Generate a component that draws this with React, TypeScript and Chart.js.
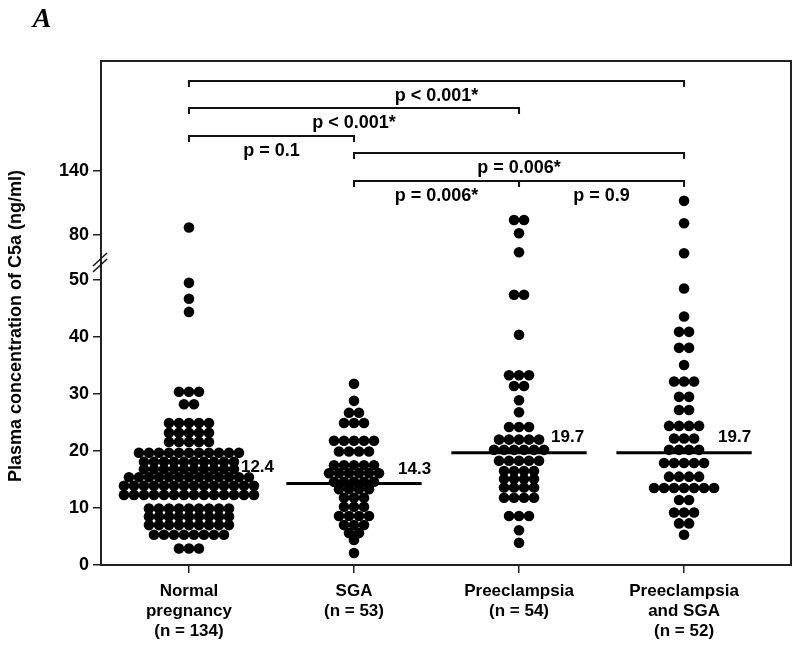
import React, { useEffect, useRef } from "react";
import { Chart, registerables } from "chart.js";

Chart.register(...registerables);

// ---------- data ----------
const categories: string[][] = [
  ["Normal", "pregnancy", "(n = 134)"],
  ["SGA", "(n = 53)"],
  ["Preeclampsia", "(n = 54)"],
  ["Preeclampsia", "and SGA", "(n = 52)"],
];

const normalPregnancy: number[] = [
  87, 49.5, 46.7, 44.4,
  30.4, 30.4, 30.4,
  28.2, 28.2,
  24.9, 24.9, 24.9, 24.9, 24.9,
  23.2, 23.2, 23.2, 23.2, 23.2,
  21.6, 21.6, 21.6, 21.6, 21.6,
  19.7, 19.7, 19.7, 19.7, 19.7, 19.7, 19.7, 19.7, 19.7, 19.7, 19.7,
  18.1, 18.1, 18.1, 18.1, 18.1, 18.1, 18.1, 18.1, 18.1, 18.1,
  16.8, 16.8, 16.8, 16.8, 16.8, 16.8, 16.8, 16.8, 16.8, 16.8,
  15.4, 15.4, 15.4, 15.4, 15.4, 15.4, 15.4, 15.4, 15.4, 15.4, 15.4, 15.4, 15.4,
  13.9, 13.9, 13.9, 13.9, 13.9, 13.9, 13.9, 13.9, 13.9, 13.9, 13.9, 13.9, 13.9, 13.9,
  12.3, 12.3, 12.3, 12.3, 12.3, 12.3, 12.3, 12.3, 12.3, 12.3, 12.3, 12.3, 12.3, 12.3,
  9.9, 9.9, 9.9, 9.9, 9.9, 9.9, 9.9, 9.9, 9.9,
  8.5, 8.5, 8.5, 8.5, 8.5, 8.5, 8.5, 8.5, 8.5,
  7.0, 7.0, 7.0, 7.0, 7.0, 7.0, 7.0, 7.0, 7.0,
  5.3, 5.3, 5.3, 5.3, 5.3, 5.3, 5.3, 5.3,
  2.9, 2.9, 2.9,
];

const sga: number[] = [
  31.8, 28.8, 26.7, 26.7,
  24.9, 24.9, 24.9,
  21.8, 21.8, 21.8, 21.8, 21.8,
  19.9, 19.9, 19.9, 19.9,
  17.5, 17.5, 17.5, 17.5, 17.5,
  16.1, 16.1, 16.1, 16.1, 16.1, 16.1,
  14.6, 14.6, 14.6, 14.6, 14.6,
  13.3, 13.3, 13.3, 13.3,
  11.8, 11.8, 11.8,
  10.2, 10.2, 10.2,
  8.6, 8.6, 8.6, 8.6,
  7.0, 7.0, 7.0,
  5.6, 5.6,
  4.4,
  2.1,
];

const preeclampsia: number[] = [
  94, 94, 81.6, 68.5,
  47.4, 47.4, 40.4,
  33.3, 33.3, 33.3,
  31.4, 31.4,
  28.9, 26.8,
  24.2, 24.2, 24.2,
  22.0, 22.0, 22.0, 22.0, 22.0,
  20.2, 20.2, 20.2, 20.2, 20.2, 20.2,
  18.3, 18.3, 18.3, 18.3, 18.3,
  16.5, 16.5, 16.5, 16.5,
  15.1, 15.1, 15.1, 15.1,
  13.6, 13.6, 13.6, 13.6,
  11.8, 11.8, 11.8, 11.8,
  8.6, 8.6, 8.6,
  6.1, 3.9,
];

const preeclampsiaSga: number[] = [
  112, 91, 67.8,
  48.5, 43.6, 40.9, 40.9, 38.1, 38.1, 35.1,
  32.2, 32.2, 32.2,
  29.5, 29.5,
  27.2, 27.2,
  24.4, 24.4, 24.4, 24.4,
  22.2, 22.2, 22.2,
  20.2, 20.2, 20.2, 20.2,
  17.9, 17.9, 17.9, 17.9, 17.9,
  15.5, 15.5, 15.5, 15.5,
  13.5, 13.5, 13.5, 13.5, 13.5, 13.5, 13.5,
  11.4, 11.4,
  9.2, 9.2, 9.2,
  7.3, 7.3,
  5.3,
];

const medians: number[] = [12.4, 14.3, 19.7, 19.7];
const yTickValues: number[] = [0, 10, 20, 30, 40, 50, 80, 140];
const yAxisTitle = "Plasma concentration of C5a (ng/ml)";
const panelLetter = "A";

const comparisonFrom: number[] = [0, 0, 0, 1, 1, 2];
const comparisonTo: number[] = [3, 2, 1, 3, 2, 3];
const comparisonLabels: string[] = ["p < 0.001*", "p < 0.001*", "p = 0.1", "p = 0.006*", "p = 0.006*", "p = 0.9"];

// ---------- layout / style constants ----------
const FONT = "'Liberation Sans', Arial, Helvetica, sans-serif";
const BREAK_LOW = 50;
const BREAK_HIGH = 80;
const MID_FACTOR = 0.2633; // axis units per ng/ml between 50 and 80
const TOP_FACTOR = 0.187; // axis units per ng/ml above 80
const Y_MAX = 88.42;
const X_MIN = -0.533;
const X_MAX = 3.648;
const DOT_PITCH = 0.0606; // category units
const DOT_RADIUS = 5.3;
const MEDIAN_HALF = 0.41;
const LABEL_DX = [52, 44, 32, 34];
const LABEL_LIFT = [27, 14, 15, 15];
const BRACKET_LEVELS = [20, 47, 75, 92, 120, 120];

function toDisplay(v: number): number {
  if (v <= BREAK_LOW) return v;
  if (v <= BREAK_HIGH) return BREAK_LOW + (v - BREAK_LOW) * MID_FACTOR;
  return BREAK_LOW + (BREAK_HIGH - BREAK_LOW) * MID_FACTOR + (v - BREAK_HIGH) * TOP_FACTOR;
}

function swarm(values: number[], group: number) {
  const counts = new Map<number, number>();
  values.forEach((v) => counts.set(v, (counts.get(v) || 0) + 1));
  const seen = new Map<number, number>();
  return values.map((v) => {
    const n = counts.get(v) || 1;
    const i = seen.get(v) || 0;
    seen.set(v, i + 1);
    return { x: group + (i - (n - 1) / 2) * DOT_PITCH, y: toDisplay(v) };
  });
}

const overlayPlugin = {
  id: "overlay",
  afterDatasetsDraw(chart: any) {
    const { ctx, chartArea } = chart;
    const x = chart.scales.x;
    const y = chart.scales.y;
    ctx.save();
    // medians
    medians.forEach((m, i) => {
      const py = y.getPixelForValue(toDisplay(m));
      ctx.strokeStyle = "#000";
      ctx.lineWidth = 3;
      ctx.beginPath();
      ctx.moveTo(x.getPixelForValue(i - MEDIAN_HALF), py);
      ctx.lineTo(x.getPixelForValue(i + MEDIAN_HALF), py);
      ctx.stroke();
      ctx.font = `bold 17px ${FONT}`;
      ctx.fillStyle = "#000";
      ctx.textAlign = "left";
      ctx.textBaseline = "middle";
      ctx.fillText(m.toFixed(1), x.getPixelForValue(i) + LABEL_DX[i], py - LABEL_LIFT[i]);
    });
    // brackets
    comparisonLabels.forEach((label, k) => {
      const x0 = x.getPixelForValue(comparisonFrom[k]);
      const x1 = x.getPixelForValue(comparisonTo[k]);
      const by = chartArea.top + BRACKET_LEVELS[k];
      ctx.strokeStyle = "#111";
      ctx.lineWidth = 2;
      ctx.beginPath();
      ctx.moveTo(x0, by + 6);
      ctx.lineTo(x0, by);
      ctx.lineTo(x1, by);
      ctx.lineTo(x1, by + 6);
      ctx.stroke();
      ctx.font = `bold 18px ${FONT}`;
      ctx.fillStyle = "#000";
      ctx.textAlign = "center";
      ctx.textBaseline = "middle";
      ctx.fillText(label, (x0 + x1) / 2, by + 15);
    });
    // frame
    ctx.strokeStyle = "#222";
    ctx.lineWidth = 2;
    ctx.strokeRect(chartArea.left, chartArea.top, chartArea.right - chartArea.left, chartArea.bottom - chartArea.top);
    // axis break marks
    const bx = chartArea.left;
    const byMid = y.getPixelForValue(toDisplay(62));
    ctx.strokeStyle = "#111";
    ctx.lineWidth = 1.5;
    [-3, 3].forEach((d) => {
      ctx.beginPath();
      ctx.moveTo(bx - 8, byMid + d + 7);
      ctx.lineTo(bx + 6, byMid + d - 6);
      ctx.stroke();
    });
    // y-axis title
    ctx.save();
    ctx.translate(16, (chartArea.top + chartArea.bottom) / 2 + 13);
    ctx.rotate(-Math.PI / 2);
    ctx.font = `bold 18px ${FONT}`;
    ctx.fillStyle = "#000";
    ctx.textAlign = "center";
    ctx.textBaseline = "middle";
    ctx.fillText(yAxisTitle, 0, 0);
    ctx.restore();
    // panel letter
    ctx.font = `bold italic 28px 'Liberation Serif', 'Times New Roman', serif`;
    ctx.fillStyle = "#000";
    ctx.textAlign = "center";
    ctx.textBaseline = "middle";
    ctx.fillText(panelLetter, 42, 20);
    ctx.restore();
  },
};

export default function App() {
  const ref = useRef<HTMLCanvasElement | null>(null);
  useEffect(() => {
    if (!ref.current) return;
    const groups = [normalPregnancy, sga, preeclampsia, preeclampsiaSga];
    const chart = new Chart(ref.current, {
      type: "scatter",
      data: {
        datasets: groups.map((g, i) => ({
          data: swarm(g, i),
          backgroundColor: "#000",
          borderWidth: 0,
          pointRadius: DOT_RADIUS,
          pointHoverRadius: DOT_RADIUS,
        })),
      },
      options: {
        animation: false,
        responsive: false,
        devicePixelRatio: 1,
        layout: { padding: { left: 0, right: 9, top: 61, bottom: 0 } },
        plugins: { legend: { display: false }, tooltip: { enabled: false } },
        scales: {
          x: {
            type: "linear",
            min: X_MIN,
            max: X_MAX,
            afterBuildTicks: (s: any) => {
              s.ticks = categories.map((_, i) => ({ value: i }));
            },
            afterFit: (s: any) => {
              s.height = 87;
            },
            ticks: {
              autoSkip: false,
              maxRotation: 0,
              padding: 8,
              color: "#000",
              font: { family: FONT, size: 17, weight: "bold", lineHeight: 1.18 },
              callback: (_v: any, idx: number) => categories[idx],
            },
            grid: { drawOnChartArea: false, tickLength: 8, color: "#222", lineWidth: 1.5 },
            border: { display: true, color: "#222", width: 2 },
          },
          y: {
            type: "linear",
            min: 0,
            max: Y_MAX,
            afterBuildTicks: (s: any) => {
              s.ticks = yTickValues.map((v) => ({ value: toDisplay(v) }));
            },
            afterFit: (s: any) => {
              s.width = 101;
            },
            ticks: {
              autoSkip: false,
              padding: 4,
              color: "#000",
              font: { family: FONT, size: 18, weight: "bold" },
              callback: (_v: any, idx: number) => String(yTickValues[idx]),
            },
            grid: { drawOnChartArea: false, tickLength: 8, color: "#222", lineWidth: 1.5 },
            border: { display: true, color: "#222", width: 2 },
          },
        },
      },
      plugins: [overlayPlugin],
    } as any);
    return () => chart.destroy();
  }, []);
  return (
    <div style={{ position: "fixed", left: 0, top: 0, width: 800, height: 652, background: "#fff" }}>
      <canvas ref={ref} width={800} height={652} style={{ display: "block", width: 800, height: 652 }} />
    </div>
  );
}
